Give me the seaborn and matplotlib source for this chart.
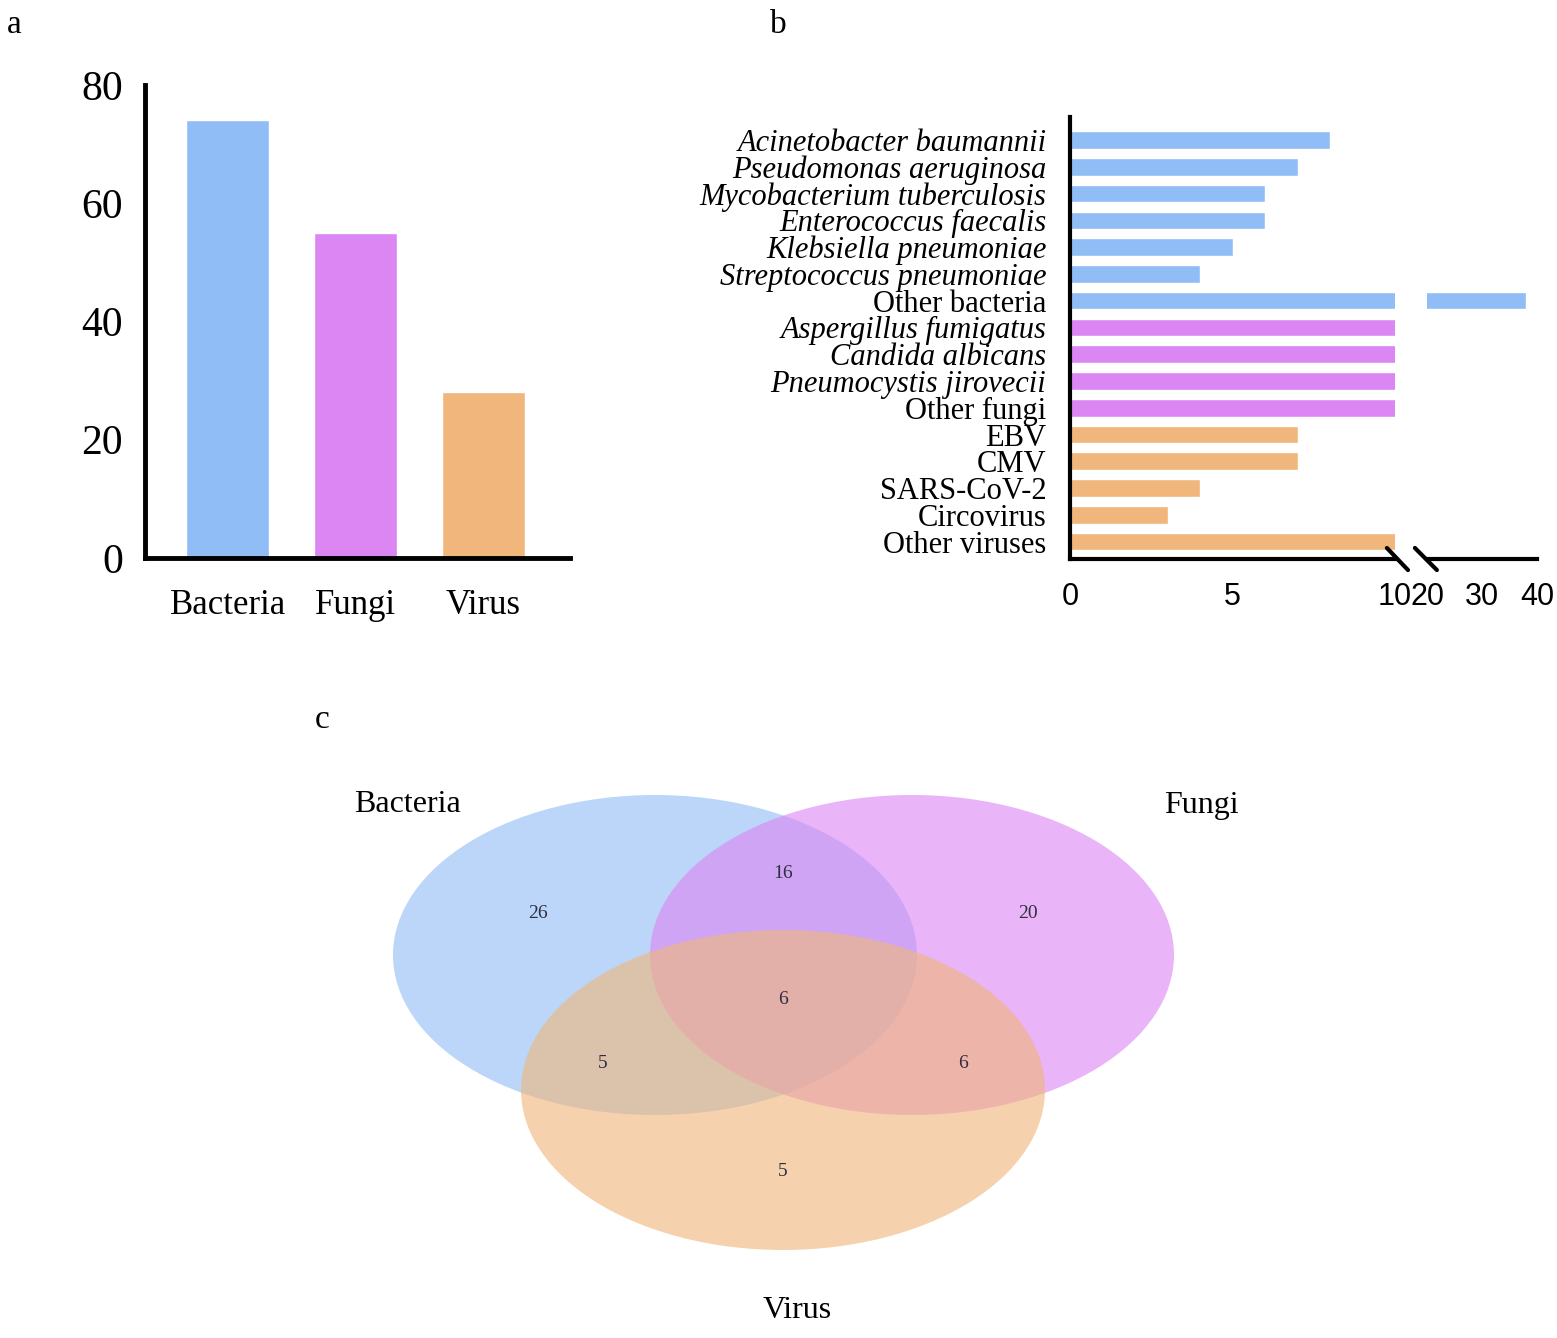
import seaborn as sns
import numpy as np
import matplotlib
matplotlib.use("Agg")
import matplotlib.pyplot as plt
from matplotlib.patches import Ellipse
import pandas as pd

# panel a
groups = ["Bacteria", "Fungi", "Virus"]
group_totals = [74, 55, 28]
group_colors = ["#91bdf6", "#dc86f4", "#f0b67b"]

# panel b
organisms = ["Acinetobacter baumannii", "Pseudomonas aeruginosa", "Mycobacterium tuberculosis",
             "Enterococcus faecalis", "Klebsiella pneumoniae", "Streptococcus pneumoniae",
             "Other bacteria", "Aspergillus fumigatus", "Candida albicans", "Pneumocystis jirovecii",
             "Other fungi", "EBV", "CMV", "SARS-CoV-2", "Circovirus", "Other viruses"]
organism_counts = [8, 7, 6, 6, 5, 4, 38, 15, 14, 13, 13, 7, 7, 4, 3, 12]
organism_group = ["Bacteria"] * 7 + ["Fungi"] * 4 + ["Virus"] * 5
italic_names = organisms[:6] + organisms[7:10]

# panel c (venn)
venn_regions = ["B", "BF", "F", "BFV", "BV", "FV", "V"]
venn_counts = [26, 16, 20, 6, 5, 6, 5]

sns.set_style("white")
plt.rcParams['font.family'] = ['Liberation Serif', 'DejaVu Serif']
plt.rcParams['text.color'] = 'black'

fig = plt.figure(figsize=(15.57, 13.38), dpi=100)
W, H = 1557, 1338

# ---- panel c: venn drawn on a full-figure pixel canvas
axc = fig.add_axes([0, 0, 1, 1])
axc.set_xlim(0, W)
axc.set_ylim(H, 0)
axc.axis("off")
venn_shapes = {"Bacteria": (655, 955), "Fungi": (912, 955), "Virus": (783, 1090)}
for g, c in zip(groups, group_colors):
    axc.add_patch(Ellipse(venn_shapes[g], 524, 320, facecolor=c, alpha=0.62, edgecolor="none"))
region_pos = {"B": (538, 914), "BF": (783, 873), "F": (1028, 914), "BFV": (783, 1000),
              "BV": (603, 1063), "FV": (963, 1063), "V": (783, 1172)}
for r, n in zip(venn_regions, venn_counts):
    axc.text(*region_pos[r], str(n), ha="center", va="center", fontsize=14, color="#2e2e40")
axc.text(407, 805, "Bacteria", ha="center", va="center", fontsize=23)
axc.text(1201, 805, "Fungi", ha="center", va="center", fontsize=23)
axc.text(797, 1310, "Virus", ha="center", va="center", fontsize=23)

# ---- panel a
dfa = pd.DataFrame({"group": groups, "n": group_totals})
axa = fig.add_axes([145 / W, 1 - 558 / H, 425 / W, 473 / H])
sns.barplot(data=dfa, x="group", y="n", hue="group", palette=group_colors, saturation=1,
            dodge=False, width=0.65, legend=False, ax=axa)
axa.set_ylim(0, 80)
axa.set_xlim(-0.65, 2.68)
axa.set_yticks([0, 20, 40, 60, 80])
axa.set_xlabel("")
axa.set_ylabel("")
for s in ["top", "right"]:
    axa.spines[s].set_visible(False)
for s in ["left", "bottom"]:
    axa.spines[s].set_linewidth(3.5)
    axa.spines[s].set_color("black")
axa.tick_params(axis="both", length=14, width=3.5, direction="out", colors="black")
axa.tick_params(axis="y", labelsize=30, pad=2)
axa.tick_params(axis="x", labelsize=25, pad=8)

# ---- panel b (broken x axis)
dfb = pd.DataFrame({"organism": organisms, "n": organism_counts, "group": organism_group})
b_bottom = 1 - 559 / H
b_height = 442 / H
axb1 = fig.add_axes([1070 / W, b_bottom, 325 / W, b_height])
axb2 = fig.add_axes([1427 / W, b_bottom, 110 / W, b_height])
for ax in (axb1, axb2):
    sns.barplot(data=dfb, y="organism", x="n", hue="group", palette=group_colors, orient="h",
                saturation=1, dodge=False, width=0.66, legend=False, ax=ax)
    ax.set_ylim(15.65, -0.86)
    ax.set_xlabel("")
    ax.set_ylabel("")
    for s in ["top", "right"]:
        ax.spines[s].set_visible(False)
    for s in ["left", "bottom"]:
        ax.spines[s].set_linewidth(3)
        ax.spines[s].set_color("black")
    ax.tick_params(axis="both", length=13, width=3, direction="out", colors="black")

axb1.set_xlim(0, 10)
axb1.set_xticks([0, 5, 10])
axb1.xaxis.get_major_ticks()[2].tick1line.set_visible(False)
axb2.set_xlim(20, 40)
axb2.set_xticks([20, 30, 40])
axb2.xaxis.get_major_ticks()[0].tick1line.set_visible(False)
axb2.spines["left"].set_visible(False)
axb2.set_yticks([])
for ax in (axb1, axb2):
    for lab in ax.get_xticklabels():
        lab.set_family(["Liberation Sans", "DejaVu Sans"])
        lab.set_fontsize(22)
axb1.tick_params(axis="y", labelsize=22, pad=4)
for lab in axb1.get_yticklabels():
    if lab.get_text() in italic_names:
        lab.set_style("italic")

# break marks
axb1.plot([0.975, 1.04], [0.025, -0.025], color="black", lw=3, transform=axb1.transAxes, clip_on=False)
axb2.plot([-0.11, 0.09], [0.025, -0.025], color="black", lw=3, transform=axb2.transAxes, clip_on=False)

# panel letters
fig.text(14 / W, 1 - 25 / H, "a", fontsize=24, va="center", ha="center")
fig.text(778 / W, 1 - 25 / H, "b", fontsize=24, va="center", ha="center")
fig.text(322 / W, 1 - 720 / H, "c", fontsize=24, va="center", ha="center")

fig.savefig("out.png", dpi=100, facecolor="white")
